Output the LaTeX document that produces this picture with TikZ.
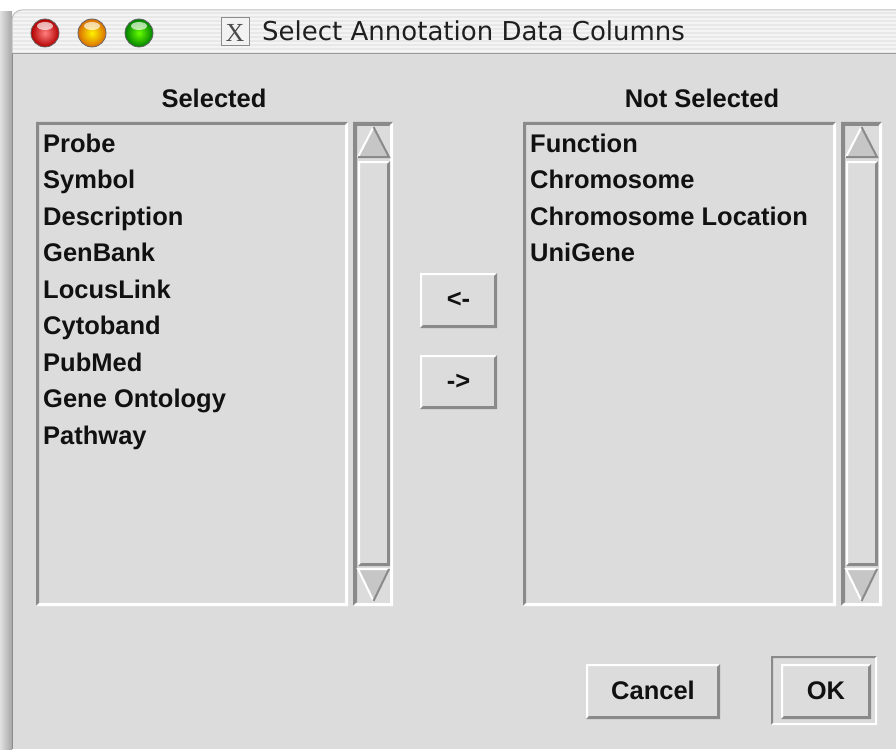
\documentclass[tikz,border=0pt]{standalone}
\usepackage{fontspec}
\setmainfont{Liberation Sans}
\newfontfamily\titlefont{DejaVu Sans}
\newfontfamily\xfont{Liberation Serif}
\definecolor{bg}{HTML}{DCDCDC}
\definecolor{shadowc}{HTML}{8A8A8A}
\definecolor{arrowfill}{HTML}{C6C6C6}
\definecolor{stripeA}{HTML}{F4F4F4}
\definecolor{stripeB}{HTML}{E8E8E8}
\definecolor{txt}{HTML}{111111}
% x1 y1 x2 y2 tTL tBR colTL colBR
\newcommand\bevelbox[8]{%
  \fill[#7] (#1,#2) -- (#3,#2) -- (#3-#5,#2+#5) -- (#1+#5,#2+#5) -- (#1+#5,#4-#5) -- (#1,#4) -- cycle;
  \fill[#8] (#3,#4) -- (#1,#4) -- (#1+#6,#4-#6) -- (#3-#6,#4-#6) -- (#3-#6,#2+#6) -- (#3,#2) -- cycle;}
\newcommand\uparrowbtn[3]{% xl xr ytop
  \fill[arrowfill] ({(#1+#2)/2},#3) -- (#2,#3+30) -- (#1,#3+30) -- cycle;
  \draw[white,line width=2pt] (#1,#3+30) -- ({(#1+#2)/2},#3);
  \draw[shadowc,line width=2pt] ({(#1+#2)/2},#3) -- (#2,#3+30) -- (#1,#3+30);}
\newcommand\downarrowbtn[3]{% xl xr ytop
  \fill[arrowfill] (#1,#3) -- (#2,#3) -- ({(#1+#2)/2},#3+32) -- cycle;
  \draw[white,line width=2pt] ({(#1+#2)/2},#3+32) -- (#1,#3) -- (#2,#3);
  \draw[shadowc,line width=2pt] (#2,#3) -- ({(#1+#2)/2},#3+32);}
\newcommand\light[4]{% x y inner outer
  \shade[inner color=#3, outer color=#4, draw=black!60, line width=0.8pt] (#1,#2) circle[radius=14];
  \fill[white, opacity=0.65] (#1,#2-7) ellipse[x radius=8, y radius=4];}
\tikzset{
  item/.style={anchor=base west, font=\bfseries\fontsize{25.5}{28}\selectfont, text=txt, inner sep=0pt},
  header/.style={anchor=base, font=\bfseries\fontsize{25.5}{28}\selectfont, text=txt, inner sep=0pt},
  btntext/.style={anchor=base, font=\bfseries\fontsize{25.5}{28}\selectfont, text=txt, inner sep=0pt}
}
\begin{document}
\begin{tikzpicture}[x=1pt,y=-1pt]
\useasboundingbox (0,0) rectangle (896,749);
\fill[white] (0,0) rectangle (896,749);
% window shadow on left
\shade[left color=black!12, right color=black!35] (0,12) rectangle (12,749);
% body
\fill[bg] (12,53) rectangle (896,749);
\draw[black!45, line width=1pt] (12.5,53) -- (12.5,749);
% title bar
\begin{scope}
  \clip (12,54) [rounded corners=10pt] -- (12,10) -- (930,10) [sharp corners] -- (930,54) -- cycle;
  \fill[stripeA] (12,10) rectangle (896,54);
  \foreach \yy in {12,16,...,52} \fill[stripeB] (12,\yy) rectangle (896,\yy+2);
\end{scope}
\draw[black!25, line width=1pt] (12,54) [rounded corners=10pt] -- (12,10) -- (930,10);
\draw[black!40, line width=1.5pt] (12,53.5) -- (896,53.5);
% traffic lights
\light{45}{33}{red!50!white}{red!70!black}
\light{92}{33}{yellow!90!orange}{orange!85!black}
\light{139}{33}{green!60!yellow}{green!50!black}
% title icon and text
\draw[black!45, fill=white!95!black, line width=1pt] (221,18) rectangle (249,46);
\node[font=\xfont\fontsize{26}{28}\selectfont, text=black!70, inner sep=0pt] (xicon) at (235,33) {X};
\node[anchor=base west, font=\titlefont\fontsize{26}{28}\selectfont, text=black!88, inner sep=0pt] (title) at (262,41) {Select Annotation Data Columns};
% headers
\node[header] (hsel) at (214,107) {Selected};
\node[header] (hnot) at (702,107) {Not Selected};
% list boxes
\bevelbox{36}{122}{348}{606}{3}{3}{shadowc}{white}
\bevelbox{523}{122}{836}{606}{3}{3}{shadowc}{white}
% scrollbars
\bevelbox{353}{122}{393}{606}{4}{3}{shadowc}{white}
\uparrowbtn{358}{389}{127}
\bevelbox{358}{161}{390}{566}{2}{3}{white}{shadowc}
\downarrowbtn{358}{389}{569}
\bevelbox{841}{122}{882}{606}{4}{3}{shadowc}{white}
\uparrowbtn{846}{877}{127}
\bevelbox{846}{161}{878}{566}{2}{3}{white}{shadowc}
\downarrowbtn{846}{877}{569}
% items left
\node[item] (i1) at (43,152) {Probe};
\node[item] (i2) at (43,188.5) {Symbol};
\node[item] (i3) at (43,225) {Description};
\node[item] (i4) at (43,261.5) {GenBank};
\node[item] (i5) at (43,298) {LocusLink};
\node[item] (i6) at (43,334.5) {Cytoband};
\node[item] (i7) at (43,371) {PubMed};
\node[item] (i8) at (43,407.5) {Gene Ontology};
\node[item] (i9) at (43,444) {Pathway};
% items right
\node[item] (r1) at (530,152) {Function};
\node[item] (r2) at (530,188.5) {Chromosome};
\node[item] (r3) at (530,225) {Chromosome Location};
\node[item] (r4) at (530,261.5) {UniGene};
% move buttons
\bevelbox{420}{273}{497}{328}{2}{3}{white}{shadowc}
\node[btntext] (bl) at (458.5,307) {<-};
\bevelbox{420}{355}{497}{409}{2}{3}{white}{shadowc}
\node[btntext] (br) at (458.5,389) {->};
% cancel / ok
\bevelbox{586}{664}{720}{719}{2}{3}{white}{shadowc}
\node[btntext] (cancel) at (653,699) {Cancel};
\bevelbox{771}{656}{877}{725}{2}{2}{shadowc}{white}
\bevelbox{781}{664}{871}{719}{2}{3}{white}{shadowc}
\node[btntext] (ok) at (826,699) {OK};
\end{tikzpicture}
\end{document}
